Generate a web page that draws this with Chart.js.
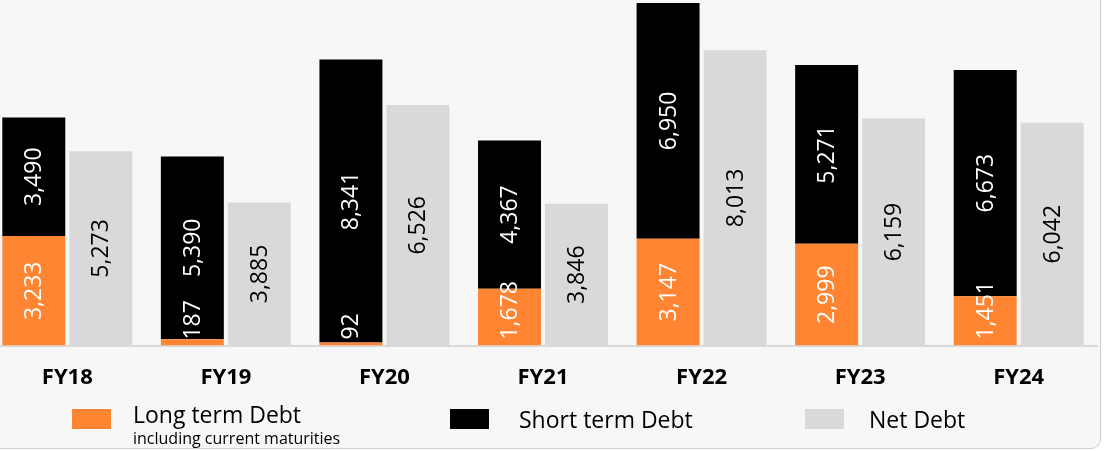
<!DOCTYPE html>
<html>
<head>
<meta charset="utf-8">
<script src="https://cdn.jsdelivr.net/npm/chart.js@4.4.1/dist/chart.umd.min.js"></script>
<style>
  html, body { margin: 0; padding: 0; background: #ffffff; overflow: hidden; }
  body { width: 1107px; height: 451px; position: relative; font-family: "Open Sans", sans-serif; }
  .card { position: absolute; left: -20px; top: -20px; width: 1119px; height: 467px;
          background: #f7f7f7; border: 1px solid #cfcfcf; border-radius: 10px; }
  .wrap { position: absolute; left: -12px; top: 0; width: 1110px; height: 422px; }
  .box { position: absolute; width: 39px; height: 20px; }
  .lbl { position: absolute; color: #000; white-space: nowrap; line-height: 1; }
</style>
</head>
<body>
<div class="card"></div>
<div class="wrap"><canvas id="debtChart" width="1110" height="422"></canvas></div>

<!-- legend -->
<div class="box" style="left:72px; top:409px; background:#ff8533;"></div>
<div class="lbl" style="left:133px; top:403px; font-size:23px;">Long term Debt</div>
<div class="lbl" style="left:133px; top:430px; font-size:16px;">including current maturities</div>
<div class="box" style="left:450px; top:409px; background:#000;"></div>
<div class="lbl" style="left:519px; top:408px; font-size:23px;">Short term Debt</div>
<div class="box" style="left:805px; top:409px; background:#d9d9d9;"></div>
<div class="lbl" style="left:869px; top:408px; font-size:23px;">Net Debt</div>

<script>
// Debt figures per fiscal year
const years = ['FY18', 'FY19', 'FY20', 'FY21', 'FY22', 'FY23', 'FY24'];
const longTermDebt = [3233, 187, 92, 1678, 3147, 2999, 1451];
const shortTermDebt = [3490, 5390, 8341, 4367, 6950, 5271, 6673];
const netDebt = [5273, 3885, 6526, 3846, 8013, 6159, 6042];

const fmt = v => v.toLocaleString('en-US');

// draws the rotated value labels inside each bar
const barLabels = {
    id: 'barLabels',
    afterDatasetsDraw(chart) {
        const ctx = chart.ctx;
        ctx.save();
        ctx.font = '23px "Open Sans"';
        ctx.textBaseline = 'middle';
        ctx.textAlign = 'center';
        chart.data.datasets.forEach((ds, di) => {
            const meta = chart.getDatasetMeta(di);
            meta.data.forEach((bar, i) => {
                const text = fmt(ds.data[i]);
                const w = ctx.measureText(text).width;
                let cy = (bar.y + bar.base) / 2;
                if (di === 0) {
                    // small long-term values sit just above the baseline
                    cy = Math.min(cy, bar.base - 6 - w / 2);
                }
                ctx.fillStyle = di === 2 ? '#000' : '#fff';
                ctx.save();
                ctx.translate(bar.x, cy);
                ctx.rotate(-Math.PI / 2);
                ctx.fillText(text, 0, 1);
                ctx.restore();
            });
        });
        ctx.restore();
    }
};

const ctx = document.getElementById('debtChart').getContext('2d');
new Chart(ctx, {
    type: 'bar',
    data: {
        labels: years,
        datasets: [
            { label: 'Long term Debt', data: longTermDebt, backgroundColor: '#ff8533', stack: 'debt', yAxisID: 'y' },
            { label: 'Short term Debt', data: shortTermDebt, backgroundColor: '#000000', stack: 'debt', yAxisID: 'y' },
            { label: 'Net Debt', data: netDebt, backgroundColor: '#d9d9d9', stack: 'net', yAxisID: 'y2' }
        ]
    },
    options: {
        responsive: false,
        maintainAspectRatio: false,
        animation: false,
        devicePixelRatio: 1,
        categoryPercentage: 0.845,
        barPercentage: 0.94,
        layout: { padding: { top: 0, bottom: 12, left: 0, right: 0 } },
        plugins: {
            legend: { display: false },
            tooltip: { enabled: false }
        },
        scales: {
            x: {
                stacked: true,
                grid: { display: false, drawTicks: false },
                border: { display: true, color: '#d9d9d9', width: 2 },
                ticks: {
                    padding: 19,
                    maxRotation: 0,
                    color: '#000',
                    font: { family: '"Open Sans"', size: 22, weight: 'bold' }
                }
            },
            y: {
                display: false,
                stacked: true,
                min: 0,
                max: 10186
            },
            y2: {
                display: false,
                stacked: true,
                min: 0,
                max: 9375
            }
        }
    },
    plugins: [barLabels]
});
</script>
</body>
</html>
